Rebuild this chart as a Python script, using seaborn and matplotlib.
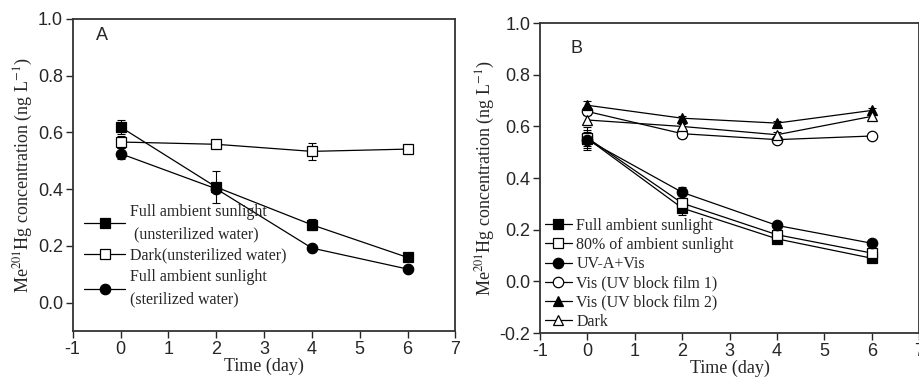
import numpy as np
import pandas as pd
import matplotlib
matplotlib.use("Agg")
import matplotlib.pyplot as plt
import seaborn as sns

sns.set_style("ticks")
plt.rcParams['font.family'] = ['Liberation Sans', 'DejaVu Sans']
plt.rcParams['mathtext.fontset'] = 'stix'
plt.rcParams['axes.unicode_minus'] = False

days = [0, 2, 4, 6]

# panel A
a_labels = ["Full ambient sunlight\n (unsterilized water)",
            "Dark(unsterilized water)",
            "Full ambient sunlight\n(sterilized water)"]
a_full_unster = [0.619, 0.407, 0.274, 0.159]
a_full_unster_err = [0.025, 0.057, 0.02, 0.008]
a_dark = [0.566, 0.558, 0.533, 0.541]
a_dark_err = [0.02, 0.008, 0.03, 0.008]
a_full_ster = [0.525, 0.401, 0.192, 0.118]
a_full_ster_err = [0.02, 0.01, 0.008, 0.006]

# panel B
b_labels = ["Full ambient sunlight", "80% of ambient sunlight", "UV-A+Vis",
            "Vis (UV block film 1)", "Vis (UV block film 2)", "Dark"]
b_full = [0.553, 0.284, 0.165, 0.090]
b_full_err = [0.045, 0.025, 0.008, 0.006]
b_80 = [0.556, 0.303, 0.181, 0.110]
b_80_err = [0.03, 0.02, 0.01, 0.008]
b_uva = [0.548, 0.345, 0.217, 0.148]
b_uva_err = [0.03, 0.02, 0.008, 0.006]
b_vis1 = [0.658, 0.572, 0.549, 0.563]
b_vis1_err = [0.01, 0.015, 0.01, 0.006]
b_vis2 = [0.682, 0.632, 0.613, 0.662]
b_vis2_err = [0.015, 0.01, 0.008, 0.01]
b_dark = [0.625, 0.600, 0.568, 0.639]
b_dark_err = [0.02, 0.01, 0.01, 0.012]

a_series = [(a_full_unster, a_full_unster_err, 's', 'black'),
            (a_dark, a_dark_err, 's', 'white'),
            (a_full_ster, a_full_ster_err, 'o', 'black')]
b_series = [(b_full, b_full_err, 's', 'black'),
            (b_80, b_80_err, 's', 'white'),
            (b_uva, b_uva_err, 'o', 'black'),
            (b_vis1, b_vis1_err, 'o', 'white'),
            (b_vis2, b_vis2_err, '^', 'black'),
            (b_dark, b_dark_err, '^', 'white')]

fig = plt.figure(figsize=(9.2, 3.79), dpi=100)
axA = fig.add_axes([0.079, 0.127, 0.416, 0.823])
axB = fig.add_axes([0.587, 0.121, 0.412, 0.818])


def draw(ax, series, labels, ylim, yticks):
    for (vals, errs, mk, fc), lab in zip(series, labels):
        ax.errorbar(days, vals, yerr=errs, fmt='none', ecolor='black',
                    elinewidth=0.8, capsize=3, capthick=0.8, zorder=2)
        sns.lineplot(x=days, y=vals, ax=ax, color='black', linewidth=0.9,
                     marker=mk, markersize=7.5 if mk != 's' else 7,
                     markerfacecolor=fc, markeredgecolor='black',
                     markeredgewidth=0.9, label=lab, zorder=3)
    ax.set_xlim(-1, 7)
    ax.set_ylim(*ylim)
    ax.set_xticks(range(-1, 8))
    ax.set_yticks(yticks)
    ax.set_yticklabels([f"{t:.1f}" for t in yticks])
    ax.tick_params(direction='out', length=5, width=1, labelsize=13,
                   pad=2, top=False, right=False)
    for s in ax.spines.values():
        s.set_visible(True)
        s.set_linewidth(1.3)
        s.set_color('#333333')
    ax.set_xlabel("Time (day)", fontfamily='Liberation Serif', fontsize=13,
                  labelpad=0)
    ax.set_ylabel("Me$^{201}$Hg concentration (ng L$^{-1}$)",
                  fontfamily='Liberation Serif', fontsize=13, labelpad=2)


draw(axA, a_series, a_labels, (-0.1, 1.0), [0.0, 0.2, 0.4, 0.6, 0.8, 1.0])
draw(axB, b_series, b_labels, (-0.2, 1.0), [-0.2, 0.0, 0.2, 0.4, 0.6, 0.8, 1.0])

legA = axA.legend(loc='lower left', bbox_to_anchor=(0.0, 0.04), frameon=False,
                  prop={'family': 'Liberation Serif', 'size': 11.5},
                  handlelength=2.6, handletextpad=0.3, labelspacing=0.35,
                  borderaxespad=0.3)
for t in legA.get_texts():
    t.set_linespacing(1.5)
axB.legend(loc='lower left', bbox_to_anchor=(-0.005, -0.01), frameon=False,
           prop={'family': 'Liberation Serif', 'size': 11.5},
           handlelength=1.7, handletextpad=0.3, labelspacing=0.2,
           borderaxespad=0.0)

axA.text(0.06, 0.975, "A", transform=axA.transAxes, fontsize=13,
         va='top', ha='left')
axB.text(0.08, 0.945, "B", transform=axB.transAxes, fontsize=13,
         va='top', ha='left')

fig.savefig("out.png", dpi=100)
